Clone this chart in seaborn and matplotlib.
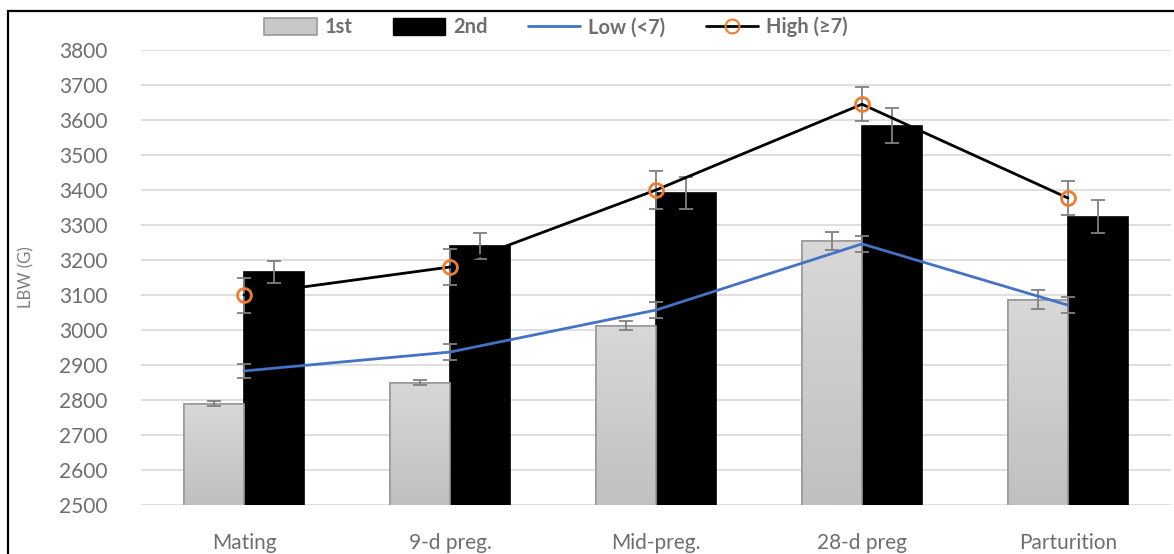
import numpy as np
import pandas as pd
import matplotlib
matplotlib.use("Agg")
import matplotlib.pyplot as plt
import seaborn as sns
from matplotlib.patches import Patch, Rectangle
from matplotlib.lines import Line2D

# Live body weight (g) by reproductive stage
stages = ["Mating", "9-d preg.", "Mid-preg.", "28-d preg", "Parturition"]
first_parity = [2790, 2850, 3012, 3254, 3086]
first_err = [6, 8, 13, 25, 27]
second_parity = [3166, 3240, 3392, 3584, 3324]
second_err = [32, 37, 45, 50, 48]
low_litter = [2883, 2937, 3057, 3246, 3071]
low_err = [20, 22, 24, 24, 23]
high_litter = [3100, 3180, 3400, 3645, 3377]
high_err = [50, 51, 53, 49, 49]
yticks = list(range(2500, 3801, 100))

sns.set_theme(style="white")
plt.rcParams["font.family"] = ["Lato", "DejaVu Sans"]

W, H = 1174, 554
fig = plt.figure(figsize=(W / 100, H / 100), dpi=100)
ax = fig.add_axes([141 / W, 1 - 505 / H, 1030 / W, 455 / H])

df = pd.DataFrame({
    "stage": stages * 2,
    "LBW": first_parity + second_parity,
    "parity": ["1st"] * 5 + ["2nd"] * 5,
})

ymin, ymax = 2500, 3800
bar_w = 0.58
sns.barplot(data=df, x="stage", y="LBW", hue="parity", order=stages,
            hue_order=["1st", "2nd"], palette={"1st": "#cccccc", "2nd": "#000000"},
            width=bar_w, errorbar=None, legend=False, ax=ax, zorder=2,
            linewidth=1.2, edgecolor="#9a9a9a", saturation=1)

# light-to-darker gradient on the 1st-parity bars
grad = np.linspace(0, 1, 256).reshape(-1, 1)
cmap = matplotlib.colors.LinearSegmentedColormap.from_list("g", ["#c0c0c0", "#d8d8d8"])
for p in list(ax.patches[:5]):
    x0, w, top = p.get_x(), p.get_width(), p.get_y() + p.get_height()
    clip = Rectangle((x0, ymin), w, top - ymin, transform=ax.transData)
    im = ax.imshow(grad, cmap=cmap, origin="lower", aspect="auto",
                   extent=[x0, x0 + w, ymin, top], zorder=2.1)
    im.set_clip_path(clip)
    ax.add_patch(Rectangle((x0, ymin - 50), w, top - ymin + 50, fill=False,
                           edgecolor="#9a9a9a", lw=1.2, zorder=2.2))
for p in ax.patches[5:10]:
    p.set_edgecolor("#000000")

pos = np.arange(len(stages))
off = bar_w / 4
ekw = dict(fmt="none", ecolor="#808080", elinewidth=1.3, capsize=5, capthick=1.3, zorder=4)
ax.errorbar(pos - off, first_parity, yerr=first_err, **ekw)
ax.errorbar(pos + off, second_parity, yerr=second_err, **ekw)

ax.plot(pos, low_litter, color="#4472c4", lw=2, zorder=5)
ax.errorbar(pos, low_litter, yerr=low_err, **ekw)
ax.plot(pos, high_litter, color="#000000", lw=2, zorder=5)
ax.errorbar(pos, high_litter, yerr=high_err, **ekw)
ax.plot(pos, high_litter, ls="none", marker="o", ms=10, mfc="none",
        mec="#ed7d31", mew=2, zorder=6)

ax.set_xlim(-0.5, 4.5)
ax.set_ylim(ymin, ymax)
ax.set_yticks(yticks)
ax.set_yticklabels([str(v) for v in yticks])
ax.yaxis.grid(True, color="#d9d9d9", lw=1.2)
ax.set_axisbelow(True)
for s in ax.spines.values():
    s.set_visible(False)
ax.tick_params(axis="both", length=0, labelsize=15, colors="#6e6e6e")
ax.tick_params(axis="y", pad=24)
ax.tick_params(axis="x", pad=20)
ax.set_xlabel("")
ax.set_ylabel("LBW (G)", fontsize=12, color="#7f7f7f", labelpad=18)

handles = [
    Patch(facecolor="#c8c8c8", edgecolor="#9a9a9a", lw=1.2),
    Patch(facecolor="#000000", edgecolor="#000000"),
    Line2D([], [], color="#4472c4", lw=2),
    Line2D([], [], color="#000000", lw=2, marker="o", ms=10, mfc="none", mec="#ed7d31", mew=1.5),
]
leg = fig.legend(handles, ["1st", "2nd", "Low (<7)", "High (≥7)"], ncol=4,
                 loc="center", bbox_to_anchor=(556 / W, 1 - 27 / H), frameon=False,
                 handlelength=2.6, handleheight=0.9, columnspacing=2.0, handletextpad=0.4,
                 prop={"size": 14.5, "weight": "bold"})
for t in leg.get_texts():
    t.set_color("#6e6e6e")

# outer frame
fig.add_artist(Rectangle((8 / W, -0.1), 1.2, 1.1 - 11 / H, transform=fig.transFigure,
                         fill=False, edgecolor="#000000", lw=1.6))

fig.savefig("out.png", dpi=100, facecolor="white")
